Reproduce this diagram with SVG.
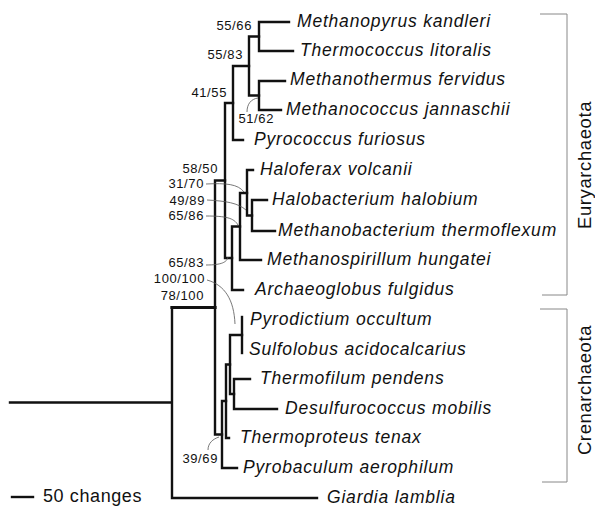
<svg xmlns="http://www.w3.org/2000/svg" width="595" height="507" viewBox="0 0 595 507">
<style>
.leaf{font-family:"Liberation Sans",Arial,Helvetica,sans-serif;font-style:italic;font-size:17.5px;letter-spacing:0.8px;fill:#111}
.bs{font-family:"Liberation Sans",Arial,Helvetica,sans-serif;font-size:13px;letter-spacing:0.6px;fill:#111;text-anchor:end}
.grp{font-family:"Liberation Sans",Arial,Helvetica,sans-serif;font-size:18.5px;letter-spacing:0.6px;fill:#111;text-anchor:middle}
.br{fill:none;stroke:#111;stroke-width:2.4;stroke-linecap:square}
.thick{stroke-width:3.2}
.lead{fill:none;stroke:#555;stroke-width:0.8}
.brk{fill:none;stroke:#888;stroke-width:1}
</style>
<rect width="595" height="507" fill="#fff"/>
<g id="connectors">
  <g class="br">
    <path d="M10,402.5 H172 M172,307.5 V498 M172,498 H317"/>
    <path class="thick" d="M172,307.5 H215"/>
    <path d="M215,180.5 V434.5 M215,180.5 H225 M215,434.5 H222"/>
    <path d="M225,103 V258 M225,103 H233 M225,258 H232"/>
    <path d="M233,66 V140 M233,66 H249 M233,140 H243"/>
    <path d="M249,36.5 V95.5 M249,36.5 H259 M249,95.5 H259"/>
    <path d="M259,22 V51 M259,22 H289 M259,51 H293"/>
    <path d="M259,81 V110 M259,81 H285 M259,110 H281"/>
    <path d="M232,226.5 V290 M232,226.5 H240 M232,290 H243"/>
    <path d="M240,193 V260 M240,193 H247 M240,260 H261"/>
    <path d="M247,170 V215.5 M247,170 H253 M247,215.5 H252"/>
    <path d="M252,200 V231 M252,200 H267 M252,231 H275"/>
    <path d="M222,401 V468 M222,401 H226 M222,468 H237"/>
    <path d="M226,364.5 V438 M226,364.5 H230 M226,438 H229"/>
    <path d="M230,335 V394 M230,335 H242 M230,394 H234"/>
    <path d="M242,317 V353"/>
    <path d="M234,379 V409 M234,379 H250 M234,409 H277"/>
    <path d="M12,497 H33"/>
  </g>
  <g class="lead">
    <path d="M247,112 C247,104 251,99 258,98"/>
    <path d="M206,184 C226,183 238,184 244,192"/>
    <path d="M207,200 C226,201 238,203 246,210"/>
    <path d="M206,216 C226,216 234,218 238,225"/>
    <path d="M206,265 C222,265 227,262 228,257"/>
    <path d="M207,280 C225,285 234,300 235,324"/>
    <path d="M208,450 C208,443 213,439 219,437"/>
  </g>
  <g class="brk">
    <path d="M540,14 H567 V295 H542"/>
    <path d="M540,309 H567 V482 H542"/>
  </g>
</g>
<g id="leaf-methanopyrus"><text class="leaf" x="297" y="27">Methanopyrus kandleri</text></g>
<g id="leaf-thermococcus"><text class="leaf" x="300" y="56">Thermococcus litoralis</text></g>
<g id="leaf-methanothermus"><text class="leaf" x="290" y="85">Methanothermus fervidus</text></g>
<g id="leaf-methanococcus"><text class="leaf" x="286" y="115">Methanococcus jannaschii</text></g>
<g id="leaf-pyrococcus"><text class="leaf" x="254" y="145">Pyrococcus furiosus</text></g>
<g id="leaf-haloferax"><text class="leaf" x="260" y="175">Haloferax volcanii</text></g>
<g id="leaf-halobacterium"><text class="leaf" x="272" y="205">Halobacterium halobium</text></g>
<g id="leaf-methanobacterium"><text class="leaf" x="278" y="236">Methanobacterium thermoflexum</text></g>
<g id="leaf-methanospirillum"><text class="leaf" x="267" y="265">Methanospirillum hungatei</text></g>
<g id="leaf-archaeoglobus"><text class="leaf" x="255" y="295">Archaeoglobus fulgidus</text></g>
<g id="leaf-pyrodictium"><text class="leaf" x="250" y="325">Pyrodictium occultum</text></g>
<g id="leaf-sulfolobus"><text class="leaf" x="249" y="355">Sulfolobus acidocalcarius</text></g>
<g id="leaf-thermofilum"><text class="leaf" x="260" y="384">Thermofilum pendens</text></g>
<g id="leaf-desulfurococcus"><text class="leaf" x="285" y="414">Desulfurococcus mobilis</text></g>
<g id="leaf-thermoproteus"><text class="leaf" x="240" y="443">Thermoproteus tenax</text></g>
<g id="leaf-pyrobaculum"><text class="leaf" x="243" y="473">Pyrobaculum aerophilum</text></g>
<g id="leaf-giardia"><text class="leaf" x="327" y="503">Giardia lamblia</text></g>
<g id="support-values">
  <text class="bs" x="252" y="30">55/66</text>
  <text class="bs" x="243" y="59">55/83</text>
  <text class="bs" x="227" y="97">41/55</text>
  <text class="bs" x="274" y="123">51/62</text>
  <text class="bs" x="218" y="172.5">58/50</text>
  <text class="bs" x="204" y="187.5">31/70</text>
  <text class="bs" x="205" y="205">49/89</text>
  <text class="bs" x="204" y="220">65/86</text>
  <text class="bs" x="204" y="267">65/83</text>
  <text class="bs" x="205" y="283">100/100</text>
  <text class="bs" x="204" y="300">78/100</text>
  <text class="bs" x="218" y="463">39/69</text>
</g>
<g id="group-euryarchaeota"><text class="grp" transform="translate(591,165) rotate(-90)">Euryarchaeota</text></g>
<g id="group-crenarchaeota"><text class="grp" transform="translate(591,390) rotate(-90)">Crenarchaeota</text></g>
<g id="scale"><text x="43" y="502" style="font-family:'Liberation Sans',Arial,Helvetica,sans-serif;font-size:18px;letter-spacing:0.6px;fill:#111">50 changes</text></g>
</svg>
